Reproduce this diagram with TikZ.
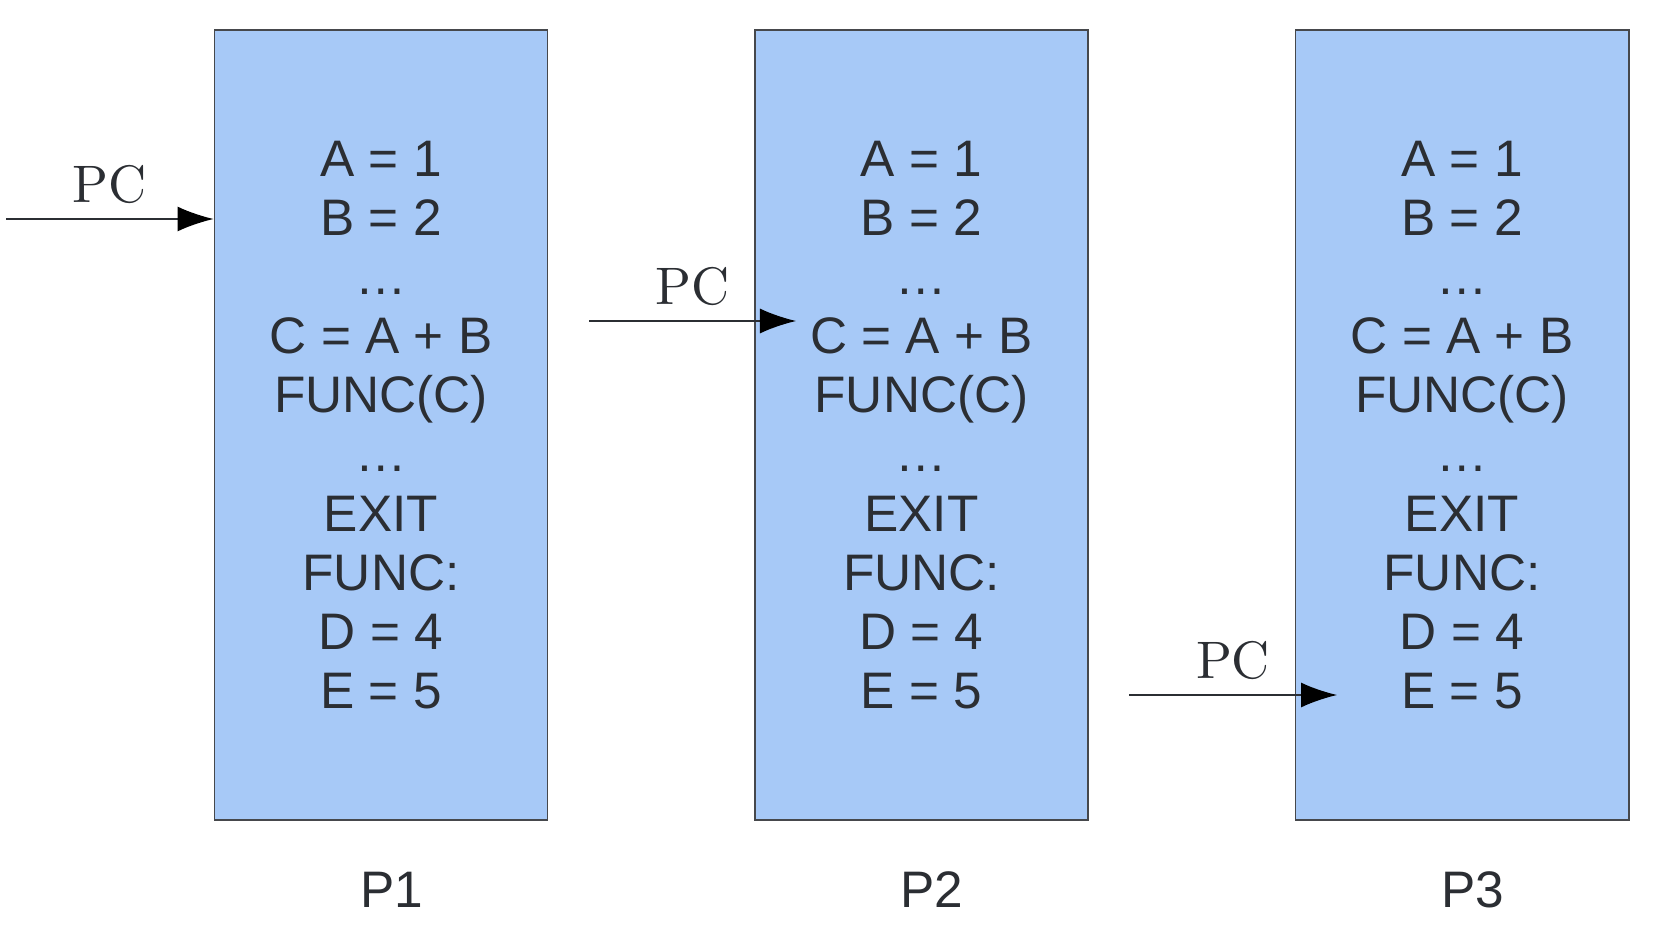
\documentclass[tikz,border=0pt]{standalone}
\usepackage{fontspec}
\newfontfamily\boxfont{Liberation Sans}
\newfontfamily\pcfont{lmroman10-regular}[Extension=.otf]
\usetikzlibrary{arrows.meta}
\definecolor{boxblue}{RGB}{167,201,247}
\definecolor{boxline}{RGB}{70,72,76}
\definecolor{textgray}{RGB}{43,46,51}
\tikzset{
  procbox/.style={draw=boxline, fill=boxblue, line width=0.5pt, minimum width=3.33cm,
    minimum height=7.9cm, align=center, text=textgray, inner sep=0pt,
    font=\boxfont\fontsize{14.6}{16.8}\selectfont},
  proclabel/.style={text=textgray, font=\boxfont\fontsize{14.6}{16.8}\selectfont},
  pcarrow/.style={draw=textgray, line width=0.45pt, -{Latex[length=0.36cm, width=0.25cm, color=black]}},
  pclabel/.style={text=textgray, font=\pcfont\fontsize{15}{18}\selectfont, inner sep=0pt, above=0.15cm}
}
\newcommand{\progtext}{A = 1\\ B = 2\\ …\\ C = A + B\\ FUNC(C)\\ …\\ EXIT\\ FUNC:\\ D = 4\\ E = 5}
\begin{document}
\begin{tikzpicture}[x=0.01cm, y=-0.01cm]
    \useasboundingbox (0,0) rectangle (1674,928);
    \node[procbox] (p1) at (381,425) {\progtext};
    \node[procbox] (p2) at (921.5,425) {\progtext};
    \node[procbox] (p3) at (1462,425) {\progtext};
    \node[proclabel] (n1) at (392,890) {P1};
    \node[proclabel] (n2) at (932,890) {P2};
    \node[proclabel] (n3) at (1473,890) {P3};
    \coordinate (s1) at (6,219);
    \coordinate (s2) at (589,321);
    \coordinate (t2) at (796,321);
    \coordinate (s3) at (1129,695);
    \coordinate (t3) at (1337,695);
    \draw[pcarrow] (s1) -- node[pclabel] (pc1) {PC} (p1.west |- s1);
    \draw[pcarrow] (s2) -- node[pclabel] (pc2) {PC} (t2);
    \draw[pcarrow] (s3) -- node[pclabel] (pc3) {PC} (t3);
\end{tikzpicture}
\end{document}
